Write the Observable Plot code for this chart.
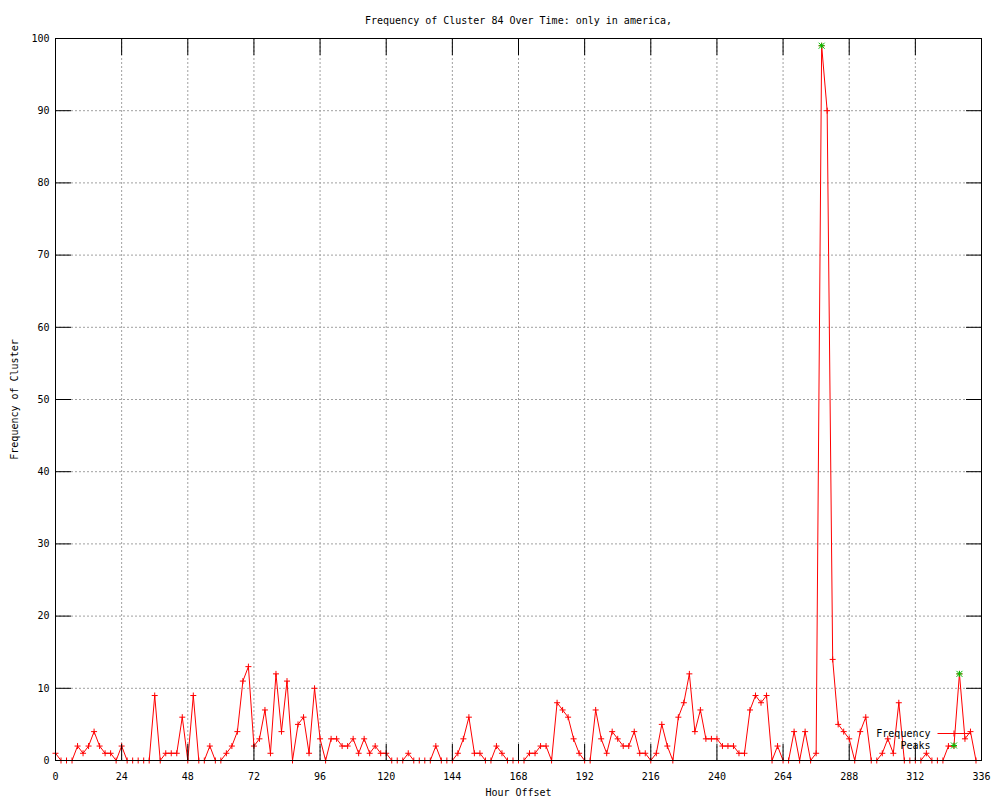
<!DOCTYPE html>
<html>
<head>
<meta charset="utf-8">
<script src="https://cdn.jsdelivr.net/npm/d3@7"></script>
<script src="https://cdn.jsdelivr.net/npm/@observablehq/plot@0.6"></script>
<style>
  html, body { margin: 0; padding: 0; background: #fff; }
  #chart { width: 1000px; height: 800px; }
</style>
</head>
<body>
<div id="chart"></div>
<script>
const titleText = "Frequency of Cluster 84 Over Time: only in america,";
const xLabel = "Hour Offset";
const yLabel = "Frequency of Cluster";

const hours = [
  0, 2, 4, 6, 8, 10, 12, 14, 16, 18,
  20, 22, 24, 26, 28, 30, 32, 34, 36, 38,
  40, 42, 44, 46, 48, 50, 52, 54, 56, 58,
  60, 62, 64, 66, 68, 70, 72, 74, 76, 78,
  80, 82, 84, 86, 88, 90, 92, 94, 96, 98,
  100, 102, 104, 106, 108, 110, 112, 114, 116, 118,
  120, 122, 124, 126, 128, 130, 132, 134, 136, 138,
  140, 142, 144, 146, 148, 150, 152, 154, 156, 158,
  160, 162, 164, 166, 168, 170, 172, 174, 176, 178,
  180, 182, 184, 186, 188, 190, 192, 194, 196, 198,
  200, 202, 204, 206, 208, 210, 212, 214, 216, 218,
  220, 222, 224, 226, 228, 230, 232, 234, 236, 238,
  240, 242, 244, 246, 248, 250, 252, 254, 256, 258,
  260, 262, 264, 266, 268, 270, 272, 274, 276, 278,
  280, 282, 284, 286, 288, 290, 292, 294, 296, 298,
  300, 302, 304, 306, 308, 310, 312, 314, 316, 318,
  320, 322, 324, 326, 328, 330, 332, 334
];
const frequency = [
  1, 0, 0, 0, 2, 1, 2, 4, 2, 1,
  1, 0, 2, 0, 0, 0, 0, 0, 9, 0,
  1, 1, 1, 6, 0, 9, 0, 0, 2, 0,
  0, 1, 2, 4, 11, 13, 2, 3, 7, 1,
  12, 4, 11, 0, 5, 6, 1, 10, 3, 0,
  3, 3, 2, 2, 3, 1, 3, 1, 2, 1,
  1, 0, 0, 0, 1, 0, 0, 0, 0, 2,
  0, 0, 0, 1, 3, 6, 1, 1, 0, 0,
  2, 1, 0, 0, 0, 0, 1, 1, 2, 2,
  0, 8, 7, 6, 3, 1, 0, 0, 7, 3,
  1, 4, 3, 2, 2, 4, 1, 1, 0, 1,
  5, 2, 0, 6, 8, 12, 4, 7, 3, 3,
  3, 2, 2, 2, 1, 1, 7, 9, 8, 9,
  0, 2, 0, 0, 4, 0, 4, 0, 1, 99,
  90, 14, 5, 4, 3, 0, 4, 6, 0, 0,
  1, 3, 1, 8, 0, 0, 0, 0, 1, 0,
  0, 0, 2, 2, 12, 3, 4, 0
];
const peakHours = [278, 328];
const peakValues = [99, 12];

const xTicks = [0, 24, 48, 72, 96, 120, 144, 168, 192, 216, 240, 264, 288, 312, 336];
const yTicks = [0, 10, 20, 30, 40, 50, 60, 70, 80, 90, 100];

const seriesNames = ["Frequency", "Peaks"];
const lineColor = "#ff0000";
const peakColor = "#00c000";

const series = hours.map((h, i) => ({hour: h, freq: frequency[i]}));
const peaks = peakHours.map((h, i) => ({hour: h, freq: peakValues[i]}));

// symbols drawn as simple strokes (gnuplot style point types)
const plusSym = { draw(ctx) { ctx.moveTo(-3, 0); ctx.lineTo(3, 0); ctx.moveTo(0, -3); ctx.lineTo(0, 3); } };
const starSym = { draw(ctx) {
  ctx.moveTo(-3, 0); ctx.lineTo(3, 0); ctx.moveTo(0, -3); ctx.lineTo(0, 3);
  ctx.moveTo(-3, -3); ctx.lineTo(3, 3); ctx.moveTo(-3, 3); ctx.lineTo(3, -3);
} };
const legendLine = { draw(ctx) { ctx.moveTo(-16.5, 0); ctx.lineTo(16.5, 0); } };

const font = "'DejaVu Sans Mono', 'Liberation Mono', monospace";

const chart = Plot.plot({
  width: 1000,
  height: 800,
  marginLeft: 55,
  marginRight: 19,
  marginTop: 38,
  marginBottom: 40,
  style: {fontFamily: font, fontSize: "10px", background: "#fff", color: "#000"},
  x: {domain: [0, 336], axis: null},
  y: {domain: [0, 100], axis: null},
  marks: [
    Plot.gridX(xTicks, {stroke: "#a0a0a0", strokeOpacity: 1, strokeDasharray: "2,2"}),
    Plot.gridY(yTicks, {stroke: "#a0a0a0", strokeOpacity: 1, strokeDasharray: "2,2"}),
    Plot.line(series, {x: "hour", y: "freq", stroke: lineColor, strokeWidth: 1}),
    Plot.dot(series, {x: "hour", y: "freq", symbol: plusSym, r: 3, stroke: lineColor, strokeWidth: 1}),
    Plot.dot(peaks, {x: "hour", y: "freq", symbol: starSym, r: 3, stroke: peakColor, strokeWidth: 1}),
    Plot.frame({stroke: "#000"}),
    Plot.axisX(xTicks, {anchor: "bottom", tickSize: -16, tickPadding: 28, label: null, stroke: "#000"}),
    Plot.axisX(xTicks, {anchor: "top", tickSize: -16, tickFormat: () => "", label: null, stroke: "#000"}),
    Plot.axisY(yTicks, {anchor: "left", tickSize: -16, tickPadding: 22, label: null, stroke: "#000"}),
    Plot.axisY(yTicks, {anchor: "right", tickSize: -16, tickFormat: () => "", label: null, stroke: "#000"}),
    // titles and axis labels
    Plot.text([titleText], {frameAnchor: "top", dy: -18, lineAnchor: "middle", textAnchor: "middle", text: d => d, fill: "#000"}),
    Plot.text([xLabel], {frameAnchor: "bottom", dy: 32, lineAnchor: "middle", textAnchor: "middle", text: d => d, fill: "#000"}),
    Plot.text([yLabel], {frameAnchor: "left", dx: -41, rotate: -90, lineAnchor: "middle", textAnchor: "middle", text: d => d, fill: "#000"}),
    // key
    Plot.text([seriesNames[0]], {frameAnchor: "bottom-right", dx: -51, dy: -27, textAnchor: "end", lineAnchor: "middle", text: d => d, fill: "#000"}),
    Plot.text([seriesNames[1]], {frameAnchor: "bottom-right", dx: -51, dy: -15, textAnchor: "end", lineAnchor: "middle", text: d => d, fill: "#000"}),
    Plot.dot([seriesNames[0]], {frameAnchor: "bottom-right", dx: -27.5, dy: -27, symbol: legendLine, r: 3, stroke: lineColor, strokeWidth: 1}),
    Plot.dot([seriesNames[0]], {frameAnchor: "bottom-right", dx: -27.5, dy: -27, symbol: plusSym, r: 3, stroke: lineColor, strokeWidth: 1}),
    Plot.dot([seriesNames[1]], {frameAnchor: "bottom-right", dx: -27.5, dy: -15, symbol: starSym, r: 3, stroke: peakColor, strokeWidth: 1})
  ]
});
document.getElementById("chart").appendChild(chart);
</script>
</body>
</html>
